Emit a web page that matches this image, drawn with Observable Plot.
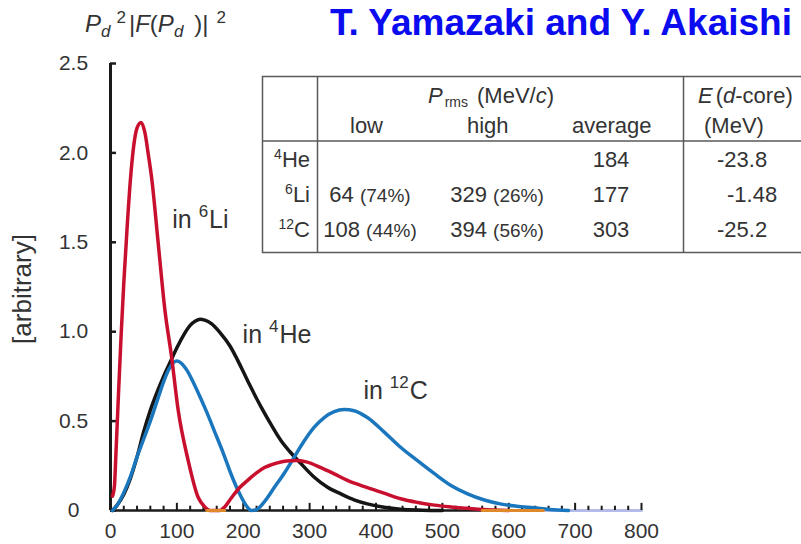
<!DOCTYPE html>
<html>
<head>
<meta charset="utf-8">
<script src="https://cdn.jsdelivr.net/npm/d3@7"></script>
<script src="https://cdn.jsdelivr.net/npm/@observablehq/plot@0.6"></script>
<style>
html,body{margin:0;padding:0;background:#fff;}
#chart{width:801px;height:544px;overflow:hidden;}
svg text{font-family:"Liberation Sans",Arial,Helvetica,sans-serif;}
</style>
</head>
<body>
<div id="chart"></div>
<script>
// ---------- data ----------
// deuteron momentum P_d (MeV/c) and P_d^2 |F(P_d)|^2 (arbitrary units)
const liX = [3, 6, 8, 12, 16, 20, 25, 30, 35, 40, 46, 52, 57, 62, 72, 82, 92, 102, 117, 132, 142, 150, 165, 172, 182, 195, 207, 220, 232, 250, 265, 280, 295, 317, 337, 357, 387, 412, 437, 463, 488, 513, 538, 560, 600];
const liY = [0.08, 0.14, 0.3, 0.65, 0.98, 1.27, 1.58, 1.85, 2.04, 2.14, 2.17, 2.11, 1.99, 1.86, 1.49, 1.12, 0.86, 0.56, 0.28, 0.074, 0.02, 0, 0, 0.02, 0.07, 0.13, 0.17, 0.21, 0.24, 0.265, 0.277, 0.28, 0.272, 0.24, 0.205, 0.168, 0.128, 0.097, 0.066, 0.045, 0.03, 0.02, 0.012, 0.005, 0];

const heX = [3, 10, 20, 30, 40, 50, 60, 70, 80, 90, 100, 110, 120, 128, 135, 142, 152, 165, 180, 197, 210, 227, 242, 257, 270, 285, 307, 327, 347, 367, 387, 412, 437, 470, 500];
const heY = [0, 0.03, 0.09, 0.18, 0.3, 0.44, 0.56, 0.66, 0.75, 0.83, 0.91, 0.98, 1.035, 1.06, 1.07, 1.065, 1.045, 0.995, 0.92, 0.8, 0.7, 0.578, 0.48, 0.39, 0.33, 0.27, 0.186, 0.13, 0.093, 0.06, 0.037, 0.018, 0.007, 0.002, 0];

const cX = [3, 10, 20, 30, 40, 50, 60, 70, 80, 88, 95, 100, 106, 115, 125, 135, 145, 157, 170, 182, 195, 205, 212, 220, 232, 247, 262, 277, 292, 307, 322, 337, 352, 367, 387, 412, 437, 462, 488, 513, 538, 562, 587, 612, 638, 662, 690];
const cY = [0, 0.03, 0.1, 0.19, 0.3, 0.4, 0.5, 0.61, 0.72, 0.79, 0.828, 0.836, 0.826, 0.785, 0.715, 0.635, 0.55, 0.44, 0.32, 0.2, 0.09, 0.025, 0, 0.005, 0.05, 0.13, 0.21, 0.3, 0.39, 0.466, 0.52, 0.553, 0.565, 0.558, 0.52, 0.44, 0.354, 0.28, 0.206, 0.14, 0.093, 0.06, 0.037, 0.024, 0.015, 0.006, 0];

const xTicks = [0, 100, 200, 300, 400, 500, 600, 700, 800];
const xTickLabels = ["0", "100", "200", "300", "400", "500", "600", "700", "800"];
const xMinorTicks = [20, 40, 60, 80, 120, 140, 160, 180, 220, 240, 260, 280, 320, 340, 360, 380, 420, 440, 460, 480, 520, 540, 560, 580, 620, 640, 660, 680, 720, 740, 760, 780];
const yTicks = [0, 0.5, 1.0, 1.5, 2.0, 2.5];
const yTickLabels = ["0", "0.5", "1.0", "1.5", "2.0", "2.5"];

// coloured overlaps lying on the axis
const orangeSegments = [[145, 172], [560, 652]];
const lavenderSegments = [[652, 800]];

// curve labels
const curveLabelNuclei = ["Li", "He", "C"];
const curveLabelMass = ["6", "4", "12"];
const curveLabelX = [93, 199, 381];
const curveLabelY = [1.627, 0.979, 0.671];

// table
const tableNuclei = ["He", "Li", "C"];
const tableMass = ["4", "6", "12"];
const prmsLow = ["", "64", "108"];
const prmsLowPct = ["", "(74%)", "(44%)"];
const prmsHigh = ["", "329", "394"];
const prmsHighPct = ["", "(26%)", "(56%)"];
const prmsAvg = ["184", "177", "303"];
const eCore = ["-23.8", "-1.48", "-25.2"];

const titleText = "T. Yamazaki and Y. Akaishi";
const yAxisLabel = "[arbitrary]";

// ---------- drawing ----------
const FONT = '"Liberation Sans", Arial, Helvetica, sans-serif';
const TEXT = "#333";
const AXIS = "#1a1a1a";
const zip = (xs, ys) => xs.map((x, i) => ({x, y: ys[i]}));
const segs = (arr) => arr.flatMap(([a, b], k) => [{x: a, y: 0, k}, {x: b, y: 0, k}]);

const labelData = curveLabelNuclei.map((n, i) => ({n, x: curveLabelX[i], y: curveLabelY[i]}));

const plot = Plot.plot({
  width: 801,
  height: 544,
  marginLeft: 110,
  marginRight: 160,
  marginTop: 63,
  marginBottom: 34,
  x: {domain: [0, 800], axis: null},
  y: {domain: [0, 2.5], axis: null},
  style: {background: "#fff", fontFamily: FONT, color: TEXT, overflow: "visible"},
  marks: [
    Plot.ruleY([0], {x1: 0, x2: 655, stroke: AXIS, strokeWidth: 2.5}),
    Plot.line(segs(lavenderSegments), {x: "x", y: "y", z: "k", stroke: "#b4bbe6", strokeWidth: 3}),
    Plot.ruleX(xMinorTicks, {x: d => d, y1: 0, y2: 0.024, stroke: AXIS, strokeWidth: 2}),
    Plot.ruleX(xTicks, {x: d => d, y1: 0, y2: 0.04, stroke: AXIS, strokeWidth: 2}),
    Plot.ruleX([0], {y1: 0, y2: 2.5, stroke: AXIS, strokeWidth: 3}),
    Plot.ruleY(yTicks, {y: d => d, x1: 0, x2: 9, stroke: AXIS, strokeWidth: 2.5}),
    Plot.text(yTicks, {x: 0, y: d => d, text: (d, i) => yTickLabels[i], dx: -37, textAnchor: "middle", fontSize: 21, fill: TEXT}),
    Plot.text(xTicks, {x: d => d, y: 0, text: (d, i) => xTickLabels[i], dy: 21, textAnchor: "middle", fontSize: 21, fill: TEXT}),
    Plot.line(zip(heX, heY), {x: "x", y: "y", stroke: "#151515", strokeWidth: 3.5, curve: "monotone-x"}),
    Plot.line(zip(cX, cY), {x: "x", y: "y", stroke: "#1b77bd", strokeWidth: 3.5, curve: "monotone-x"}),
    Plot.line(zip(liX, liY), {x: "x", y: "y", stroke: "#c8102e", strokeWidth: 3.5, curve: "monotone-x"}),
    Plot.line(segs(orangeSegments), {x: "x", y: "y", z: "k", stroke: "#e0892a", strokeWidth: 3}),
    Plot.text(labelData, {x: "x", y: "y", text: "n", textAnchor: "start", fontSize: 25, fill: TEXT})
  ]
});

document.getElementById("chart").appendChild(plot);
const svg = d3.select(plot);

// superscript mass numbers in curve labels
svg.selectAll("text").each(function () {
  const t = this.textContent;
  const idx = curveLabelNuclei.indexOf(t);
  if (idx < 0 || this.childElementCount) return;
  const sel = d3.select(this);
  sel.text(null);
  sel.append("tspan").text("in ");
  sel.append("tspan").attr("font-size", 17).attr("dy", -11).text(curveLabelMass[idx]);
  sel.append("tspan").attr("dy", 11).attr("dx", 1).text(t);
});

// overlay group for annotations (explicit start anchoring)
const ov = svg.append("g").attr("text-anchor", "start").attr("fill", TEXT);

// title
ov.append("text")
  .attr("x", 792).attr("y", 35)
  .attr("text-anchor", "end")
  .attr("font-size", 37).attr("font-weight", "bold")
  .attr("fill", "#0b0bef")
  .text(titleText);

// quantity label above the y axis
const tl = ov.append("text").attr("x", 85).attr("y", 32).attr("font-size", 24);
tl.append("tspan").attr("font-style", "italic").text("P");
tl.append("tspan").attr("font-style", "italic").attr("font-size", 17).attr("dy", 5).text("d");
tl.append("tspan").attr("font-size", 17).attr("dy", -14).attr("dx", 6).text("2");
tl.append("tspan").attr("dy", 9).attr("dx", 3).text("|");
tl.append("tspan").attr("font-style", "italic").text("F");
tl.append("tspan").text("(");
tl.append("tspan").attr("font-style", "italic").text("P");
tl.append("tspan").attr("font-style", "italic").attr("font-size", 17).attr("dy", 5).text("d");
tl.append("tspan").attr("dy", -5).attr("dx", 11).text(")|");
tl.append("tspan").attr("font-size", 17).attr("dy", -9).attr("dx", 8).text("2");

// y-axis label
ov.append("text")
  .attr("transform", "translate(31,289) rotate(-90)")
  .attr("text-anchor", "middle")
  .attr("font-size", 26)
  .text(yAxisLabel);

// table
const tg = ov.append("g").attr("font-size", 22);
const lineCol = "#5a5a5a";
tg.append("path").attr("d", "M801,76.5 H262.5 V252.5 H801").attr("fill", "none").attr("stroke", lineCol).attr("stroke-width", 1.5);
tg.append("path").attr("d", "M317.5,76.5 V252.5 M683.5,76.5 V252.5 M262.5,141 H801").attr("fill", "none").attr("stroke", lineCol).attr("stroke-width", 1.5);

// header row 1
const h1 = tg.append("text").attr("x", 428).attr("y", 103);
h1.append("tspan").attr("font-style", "italic").text("P");
h1.append("tspan").attr("font-size", 14).attr("dy", 4).attr("dx", 2).text("rms");
h1.append("tspan").attr("dy", -4).attr("x", 477).text("(MeV/");
h1.append("tspan").attr("font-style", "italic").text("c");
h1.append("tspan").text(")");
const h2 = tg.append("text").attr("x", 698).attr("y", 103);
h2.append("tspan").attr("font-style", "italic").text("E");
h2.append("tspan").attr("dx", 3).text("(");
h2.append("tspan").attr("font-style", "italic").text("d");
h2.append("tspan").text("-core)");
// header row 2
tg.append("text").attr("x", 350).attr("y", 133).text("low");
tg.append("text").attr("x", 467).attr("y", 133).text("high");
tg.append("text").attr("x", 572).attr("y", 133).text("average");
tg.append("text").attr("x", 704).attr("y", 133).text("(MeV)");

const rowBase = [167, 201.5, 236.5];
const eX = [717, 727, 717];
tableNuclei.forEach((n, i) => {
  const y = rowBase[i];
  const t = tg.append("text").attr("x", 310).attr("y", y).attr("text-anchor", "end");
  t.append("tspan").attr("font-size", 14).attr("dy", -8).text(tableMass[i]);
  t.append("tspan").attr("dy", 8).text(n);
  if (prmsLow[i]) {
    const a = tg.append("text").attr("x", 370).attr("y", y).attr("text-anchor", "middle");
    a.append("tspan").text(prmsLow[i] + " ");
    a.append("tspan").attr("font-size", 19).text(prmsLowPct[i]);
    const b = tg.append("text").attr("x", 497).attr("y", y).attr("text-anchor", "middle");
    b.append("tspan").text(prmsHigh[i] + " ");
    b.append("tspan").attr("font-size", 19).text(prmsHighPct[i]);
  }
  tg.append("text").attr("x", 611).attr("y", y).attr("text-anchor", "middle").text(prmsAvg[i]);
  tg.append("text").attr("x", eX[i]).attr("y", y).text(eCore[i]);
});
</script>
</body>
</html>
